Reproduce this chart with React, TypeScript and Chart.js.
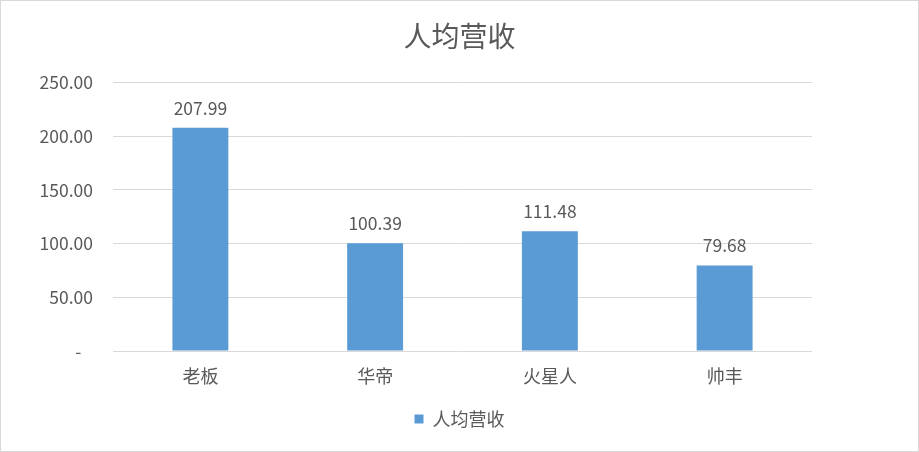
import { useEffect, useRef } from "react"
import { Chart, registerables } from "chart.js"

Chart.register(...registerables)

const categories = ["老板", "华帝", "火星人", "帅丰"]
const revenuePerHead = [207.99, 100.39, 111.48, 79.68]
const seriesName = "人均营收"
const yTicks = [0, 50, 100, 150, 200, 250]

const FONT = "'Noto Sans CJK SC', 'Noto Sans', sans-serif"
const TEXT = "#595959"
const BAR = "#5B9BD5"
const GRID = "#D9D9D9"

// white background + thin grey frame like the Excel chart area
const framePlugin = {
  id: "frame",
  beforeDraw(chart: Chart) {
    const { ctx, width, height } = chart
    ctx.save()
    ctx.fillStyle = "#fff"
    ctx.fillRect(0, 0, width, height)
    ctx.strokeStyle = GRID
    ctx.lineWidth = 1
    ctx.strokeRect(0.5, 0.5, width - 1, height - 1)
    ctx.restore()
  },
}

// value labels above each bar
const valueLabels = {
  id: "valueLabels",
  afterDatasetsDraw(chart: Chart) {
    const { ctx } = chart
    const meta = chart.getDatasetMeta(0)
    ctx.save()
    ctx.font = `17.5px ${FONT}`
    ctx.fillStyle = TEXT
    ctx.textAlign = "center"
    ctx.textBaseline = "bottom"
    meta.data.forEach((bar, i) => {
      const v = chart.data.datasets[0].data[i] as number
      ctx.fillText(v.toFixed(2), bar.x, bar.y - 11)
    })
    ctx.restore()
  },
}

export default function App() {
  const canvasRef = useRef<HTMLCanvasElement>(null)
  const chartRef = useRef<Chart | null>(null)

  useEffect(() => {
    document.body.style.margin = "0"
    if (!canvasRef.current) return
    if (chartRef.current) chartRef.current.destroy()
    const ctx = canvasRef.current.getContext("2d")
    if (!ctx) return

    chartRef.current = new Chart(ctx, {
      type: "bar",
      data: {
        labels: categories,
        datasets: [
          {
            label: seriesName,
            data: revenuePerHead,
            backgroundColor: BAR,
            barPercentage: 0.64,
            categoryPercentage: 0.5,
          },
        ],
      },
      options: {
        animation: false,
        responsive: false,
        layout: { padding: { left: 10, right: 10, top: 0, bottom: 14 } },
        plugins: {
          title: {
            display: true,
            text: seriesName,
            color: TEXT,
            font: { family: FONT, size: 28, weight: "normal", lineHeight: 1.2 },
            padding: { top: 20, bottom: 29 },
          },
          legend: {
            position: "bottom",
            labels: {
              color: TEXT,
              font: { family: FONT, size: 18 },
              boxWidth: 9,
              boxHeight: 9,
              padding: 10,
            },
          },
          tooltip: { enabled: false },
        },
        scales: {
          x: {
            grid: { display: false, drawTicks: false },
            border: { display: false },
            ticks: { color: TEXT, font: { family: FONT, size: 18 }, padding: 14 },
            afterFit: (scale: any) => {
              scale.height = 49
            },
          },
          y: {
            min: 0,
            max: 250,
            afterBuildTicks: (scale: any) => {
              scale.ticks = yTicks.map((value) => ({ value }))
            },
            grid: { color: GRID, lineWidth: 1, drawTicks: false },
            border: { display: false },
            ticks: {
              color: TEXT,
              font: { family: FONT, size: 17.5 },
              padding: 20,
              callback: (value: any) => (Number(value) === 0 ? "-   " : Number(value).toFixed(2)),
            },
            afterFit: (scale: any) => {
              scale.width = 103
            },
          },
          // empty right-hand axis only to reserve the blank space on the right
          spacer: {
            type: "linear",
            position: "right",
            display: true,
            grid: { display: false, drawTicks: false },
            border: { display: false },
            ticks: { display: false },
            afterFit: (scale: any) => {
              scale.width = 97
            },
          },
        },
      },
      plugins: [framePlugin, valueLabels],
    })

    return () => {
      if (chartRef.current) {
        chartRef.current.destroy()
        chartRef.current = null
      }
    }
  }, [])

  return <canvas ref={canvasRef} width={919} height={452} style={{ display: "block" }} />
}
